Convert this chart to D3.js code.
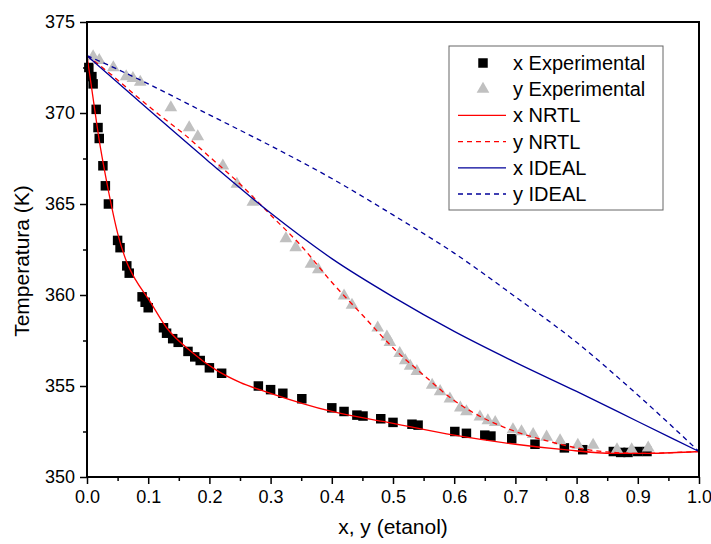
<!DOCTYPE html>
<html>
<head>
<meta charset="utf-8">
<script src="https://cdn.jsdelivr.net/npm/d3@7"></script>
<style>
  body { margin: 0; background: #fff; }
  svg { display: block; font-family: "Liberation Sans", Arial, sans-serif; }
</style>
</head>
<body>
<div id="chart"></div>
<script>
// experimental liquid composition (x) and temperature
const xExp = [
  [0.003, 372.5], [0.008, 372.0], [0.01, 371.6], [0.015, 370.2], [0.018, 369.2],
  [0.02, 368.6], [0.026, 367.1], [0.03, 366.0], [0.035, 365.0], [0.05, 363.0],
  [0.054, 362.6], [0.065, 361.6], [0.069, 361.2], [0.09, 359.9], [0.095, 359.6],
  [0.1, 359.3], [0.125, 358.2], [0.13, 357.9], [0.14, 357.6], [0.149, 357.4],
  [0.165, 356.9], [0.176, 356.6], [0.185, 356.4], [0.2, 356.0], [0.22, 355.7],
  [0.28, 355.0], [0.30, 354.8], [0.32, 354.6], [0.351, 354.3], [0.40, 353.8],
  [0.42, 353.6], [0.441, 353.4], [0.451, 353.35], [0.48, 353.2], [0.50, 353.0],
  [0.531, 352.9], [0.541, 352.85], [0.601, 352.5], [0.62, 352.4], [0.65, 352.3],
  [0.66, 352.25], [0.694, 352.1], [0.732, 351.8], [0.78, 351.6], [0.81, 351.5],
  [0.86, 351.4], [0.872, 351.35], [0.884, 351.35], [0.9, 351.4], [0.915, 351.4]
];

// experimental vapour composition (y) and temperature
const yExp = [
  [0.01, 373.1], [0.02, 372.9], [0.043, 372.5], [0.064, 372.0], [0.075, 371.9],
  [0.087, 371.7], [0.137, 370.3], [0.167, 369.2], [0.181, 368.7], [0.222, 367.1],
  [0.245, 366.1], [0.271, 365.1], [0.325, 363.1], [0.341, 362.6], [0.366, 361.7],
  [0.378, 361.4], [0.42, 359.95], [0.433, 359.45], [0.475, 358.2], [0.49, 357.7],
  [0.495, 357.4], [0.511, 356.8], [0.52, 356.4], [0.528, 356.1], [0.539, 355.8],
  [0.564, 355.05], [0.577, 354.7], [0.593, 354.3], [0.61, 353.8], [0.62, 353.6],
  [0.642, 353.3], [0.655, 353.1], [0.667, 353.0], [0.696, 352.6], [0.71, 352.5],
  [0.729, 352.35], [0.751, 352.2], [0.773, 352.0], [0.802, 351.75], [0.827, 351.75],
  [0.866, 351.5], [0.89, 351.5], [0.917, 351.6]
];

// model curves
const xNRTL = [
  [0, 373.15], [0.01, 370.8], [0.02, 368.5], [0.03, 366.6], [0.04, 364.9],
  [0.05, 363.4], [0.065, 361.8], [0.08, 360.8], [0.1, 359.8], [0.13, 358.2],
  [0.17, 356.9], [0.21, 355.9], [0.25, 355.2], [0.3, 354.6], [0.4, 353.6],
  [0.5, 352.95], [0.6, 352.3], [0.7, 351.8], [0.78, 351.5], [0.86, 351.3],
  [0.92, 351.3], [1.0, 351.4]
];
const yNRTL = [
  [0, 373.15], [0.04, 372.1], [0.08, 370.95], [0.12, 369.85], [0.16, 368.8],
  [0.2, 367.6], [0.25, 366.1], [0.3, 364.4], [0.35, 362.7], [0.4, 360.7],
  [0.45, 358.9], [0.5, 357.1], [0.55, 355.6], [0.6, 354.2], [0.65, 353.2],
  [0.7, 352.5], [0.75, 352.0], [0.8, 351.6], [0.86, 351.35], [0.9, 351.3],
  [1.0, 351.4]
];
const xIdeal = [
  [0, 373.15], [0.1, 370.2], [0.2, 367.3], [0.3, 364.5], [0.4, 362.0],
  [0.5, 359.9], [0.6, 358.0], [0.7, 356.3], [0.8, 354.7], [0.9, 353.05],
  [1.0, 351.4]
];
const yIdeal = [
  [0, 373.15], [0.05, 372.4], [0.1, 371.6], [0.2, 369.9], [0.3, 368.2],
  [0.4, 366.4], [0.5, 364.4], [0.6, 362.3], [0.7, 359.9], [0.8, 357.4],
  [0.9, 354.5], [1.0, 351.4]
];

const xTicks = d3.range(0, 1.0001, 0.1);
const yTicks = [350, 355, 360, 365, 370, 375];
const legendLabels = ["x Experimental", "y Experimental", "x NRTL", "y NRTL", "x IDEAL", "y IDEAL"];

const width = 711, height = 544;
const margin = { top: 22, right: 12, bottom: 67, left: 87 };
const red = "#ff0000", blue = "#000099", grey = "#c0c0c0";

const svg = d3.select("#chart").append("svg")
  .attr("width", width)
  .attr("height", height);

const x = d3.scaleLinear().domain([0, 1]).range([margin.left, width - margin.right]);
const y = d3.scaleLinear().domain([350, 375]).range([height - margin.bottom, margin.top]);

const line = d3.line()
  .x((d) => x(d[0]))
  .y((d) => y(d[1]))
  .curve(d3.curveMonotoneX);

// experimental points
svg.append("g")
  .selectAll("path")
  .data(xExp)
  .join("path")
  .attr("transform", (d) => `translate(${x(d[0])},${y(d[1])})`)
  .attr("d", d3.symbol(d3.symbolSquare, 90))
  .attr("fill", "#000");

svg.append("g")
  .selectAll("path")
  .data(yExp)
  .join("path")
  .attr("transform", (d) => `translate(${x(d[0])},${y(d[1])})`)
  .attr("d", d3.symbol(d3.symbolTriangle, 70))
  .attr("fill", grey);

// model curves
const curves = [
  { data: xNRTL, color: red, dash: null },
  { data: yNRTL, color: red, dash: "5,4" },
  { data: xIdeal, color: blue, dash: null },
  { data: yIdeal, color: blue, dash: "5,4" },
];
curves.forEach((c) => {
  svg.append("path")
    .datum(c.data)
    .attr("d", line)
    .attr("fill", "none")
    .attr("stroke", c.color)
    .attr("stroke-width", 1.3)
    .attr("stroke-dasharray", c.dash);
});

// axes
const fontSize = "18px";
const xAxis = svg.append("g")
  .attr("transform", `translate(0,${height - margin.bottom})`)
  .call(d3.axisBottom(x).tickValues(xTicks).tickFormat(d3.format(".1f")).tickSize(7).tickPadding(6));
svg.append("g")
  .attr("transform", `translate(0,${height - margin.bottom})`)
  .call(d3.axisBottom(x).tickValues(d3.range(0.05, 1, 0.1)).tickSize(4).tickFormat(""))
  .select(".domain").remove();

const yAxis = svg.append("g")
  .attr("transform", `translate(${margin.left},0)`)
  .call(d3.axisLeft(y).tickValues(yTicks).tickSize(7).tickPadding(5));
svg.append("g")
  .attr("transform", `translate(${margin.left},0)`)
  .call(d3.axisLeft(y).tickValues(d3.range(352.5, 375, 5)).tickSize(4).tickFormat(""))
  .select(".domain").remove();

svg.selectAll(".tick line").attr("stroke-width", 1.5);
xAxis.select(".domain").remove();
yAxis.select(".domain").remove();
svg.selectAll(".tick text")
  .style("font-size", fontSize)
  .style("font-family", '"Liberation Sans", Arial, sans-serif')
  .attr("fill", "#000");

// frame
svg.append("rect")
  .attr("x", x(0))
  .attr("y", y(375))
  .attr("width", x(1) - x(0))
  .attr("height", y(350) - y(375))
  .attr("fill", "none")
  .attr("stroke", "#000")
  .attr("stroke-width", 2);

// axis titles
svg.append("text")
  .attr("x", (x(0) + x(1)) / 2)
  .attr("y", 534)
  .attr("text-anchor", "middle")
  .style("font-size", "21px")
  .text("x, y (etanol)");

svg.append("text")
  .attr("transform", `translate(29,261) rotate(-90)`)
  .attr("text-anchor", "middle")
  .style("font-size", "21px")
  .text("Temperatura (K)");

// legend
const legend = svg.append("g").attr("transform", "translate(449,46)");
legend.append("rect")
  .attr("width", 214)
  .attr("height", 164)
  .attr("fill", "#fff")
  .attr("stroke", "#666")
  .attr("stroke-width", 1);

legendLabels.forEach((label, i) => {
  const cy = 17 + i * 26.2;
  const row = legend.append("g").attr("transform", `translate(0,${cy})`);
  if (i === 0) {
    row.append("path").attr("transform", "translate(34,0)")
      .attr("d", d3.symbol(d3.symbolSquare, 90)).attr("fill", "#000");
  } else if (i === 1) {
    row.append("path").attr("transform", "translate(34,0)")
      .attr("d", d3.symbol(d3.symbolTriangle, 70)).attr("fill", grey);
  } else {
    const c = curves[i - 2];
    row.append("line")
      .attr("x1", 9).attr("x2", 57)
      .attr("stroke", c.color)
      .attr("stroke-width", 1.3)
      .attr("stroke-dasharray", c.dash);
  }
  row.append("text")
    .attr("x", 64)
    .attr("y", 7)
    .style("font-size", "20px")
    .text(label);
});
</script>
</body>
</html>
